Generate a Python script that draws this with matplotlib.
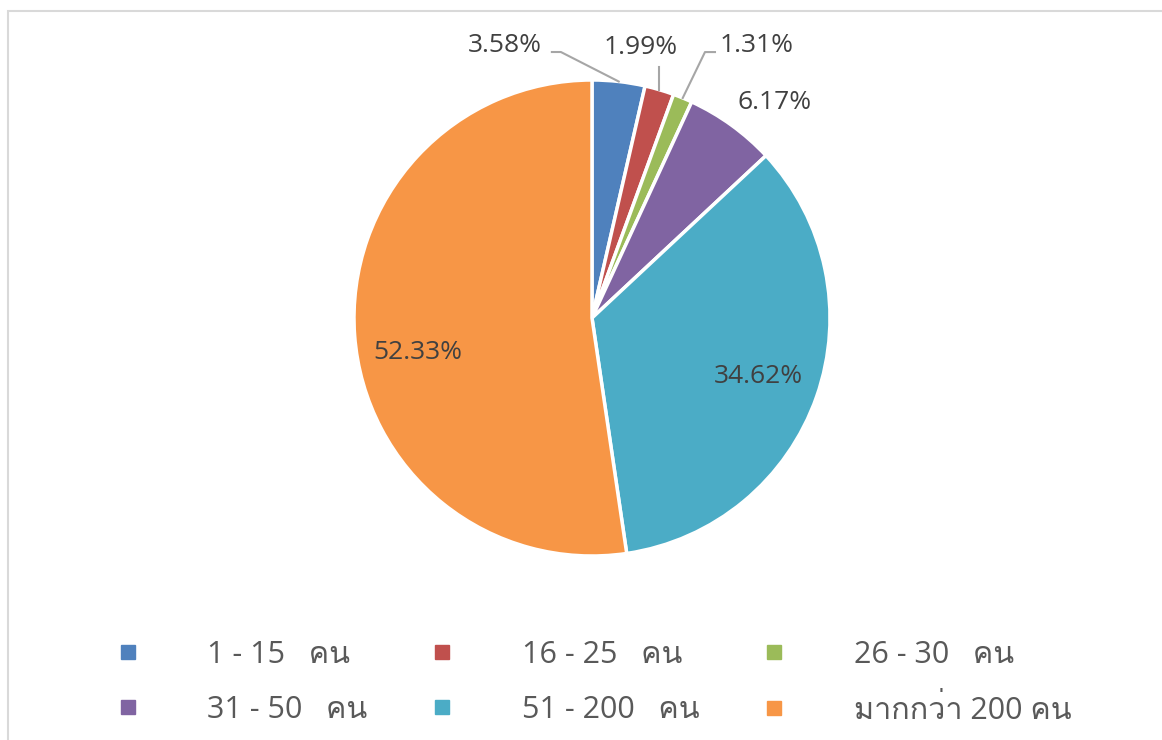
import numpy as np
import matplotlib
matplotlib.use("Agg")
import matplotlib.pyplot as plt
from matplotlib import font_manager
from matplotlib.lines import Line2D
from matplotlib.patches import Rectangle

# ---------------- data ----------------
categories = ["1 - 15   คน", "16 - 25   คน", "26 - 30   คน",
              "31 - 50   คน", "51 - 200   คน", "มากกว่า 200 คน"]
values = [3.58, 1.99, 1.31, 6.17, 34.62, 52.33]
labels = ["3.58%", "1.99%", "1.31%", "6.17%", "34.62%", "52.33%"]
colors = ["#4F81BD", "#C0504D", "#9BBB59", "#8064A2", "#4BACC6", "#F79646"]

# ---------------- fonts ----------------
def find_thai_font():
    from matplotlib.ft2font import FT2Font
    seen = set()
    for f in font_manager.fontManager.ttflist:
        if f.name in seen:
            continue
        seen.add(f.name)
        try:
            ft = FT2Font(f.fname)
            if ft.get_char_index(ord("ค")) and ft.get_char_index(ord("ม")):
                return f.name
        except Exception:
            pass
    return None

thai = find_thai_font()
fam = ["Open Sans", "DejaVu Sans"]
if thai:
    fam = ["Open Sans", thai, "DejaVu Sans"]
plt.rcParams["font.family"] = fam

W, H = 1162, 740
fig = plt.figure(figsize=(W / 100, H / 100), dpi=100)
ax = fig.add_axes([0, 0, 1, 1])
ax.set_axis_off()

cx, cy, R = 592, H - 318, 238
wedges, _ = ax.pie(values, colors=colors, startangle=90, counterclock=False,
                   center=(cx, cy), radius=R,
                   wedgeprops=dict(edgecolor="white", linewidth=2.5))
ax.set_xlim(0, W)
ax.set_ylim(0, H)
ax.set_aspect("auto")

# border of chart area
ax.add_patch(Rectangle((8, -20), W + 40, H - 11 + 20, fill=False,
                       edgecolor="#D9D9D9", linewidth=1.5, clip_on=False))

txtc = "#404040"
fs = 19
# inside labels: (angle offset from wedge middle in degrees, radius factor)
inside = {4: (0.0, 0.74), 5: (7.0, 0.745)}
# outside labels: (angle_deg, radius_factor) for text center
outside_text = {0: (107.7, 1.204), 1: (79.75, 1.157), 2: (58.85, 1.34), 3: (49.75, 1.184)}

for i, w in enumerate(wedges):
    mid_deg = (w.theta1 + w.theta2) / 2
    mid = np.deg2rad(mid_deg)
    if i in inside:
        off, rf = inside[i]
        a = np.deg2rad(mid_deg + off)
        r = rf * R
        ax.text(cx + r * np.cos(a), cy + r * np.sin(a), labels[i],
                ha="center", va="center", fontsize=fs, color=txtc)
    else:
        ang, rf = outside_text[i]
        a = np.deg2rad(ang)
        tx, ty = cx + rf * R * np.cos(a), cy + rf * R * np.sin(a)
        ax.text(tx, ty, labels[i], ha="center", va="center",
                fontsize=fs, color=txtc)
        ex, ey = cx + R * np.cos(mid), cy + R * np.sin(mid)
        if i == 0:
            ax.plot([tx + 47, tx + 56, ex], [ty - 7, ty - 7, ey],
                    color="#A6A6A6", lw=1.5)
        elif i == 1:
            ax.plot([ex, ex], [ey, ty - 20], color="#A6A6A6", lw=1.5)
        elif i == 2:
            ax.plot([tx - 42, tx - 52, ex], [ty - 7, ty - 7, ey],
                    color="#A6A6A6", lw=1.5)

# legend (row-wise order like the reference)
order = [0, 3, 1, 4, 2, 5]
handles = [Line2D([], [], marker="s", linestyle="none", markersize=10,
                  markerfacecolor=c, markeredgecolor=c) for c in colors]
leg = fig.legend([handles[k] for k in order], [categories[k] for k in order],
                 loc="center", ncol=3,
                 bbox_to_anchor=(592 / W, 1 - 683 / H), frameon=False,
                 fontsize=22, labelcolor="#595959", handletextpad=2.1,
                 columnspacing=1.95, labelspacing=0.81, handlelength=1.0)

fig.savefig("out.png", dpi=100)
